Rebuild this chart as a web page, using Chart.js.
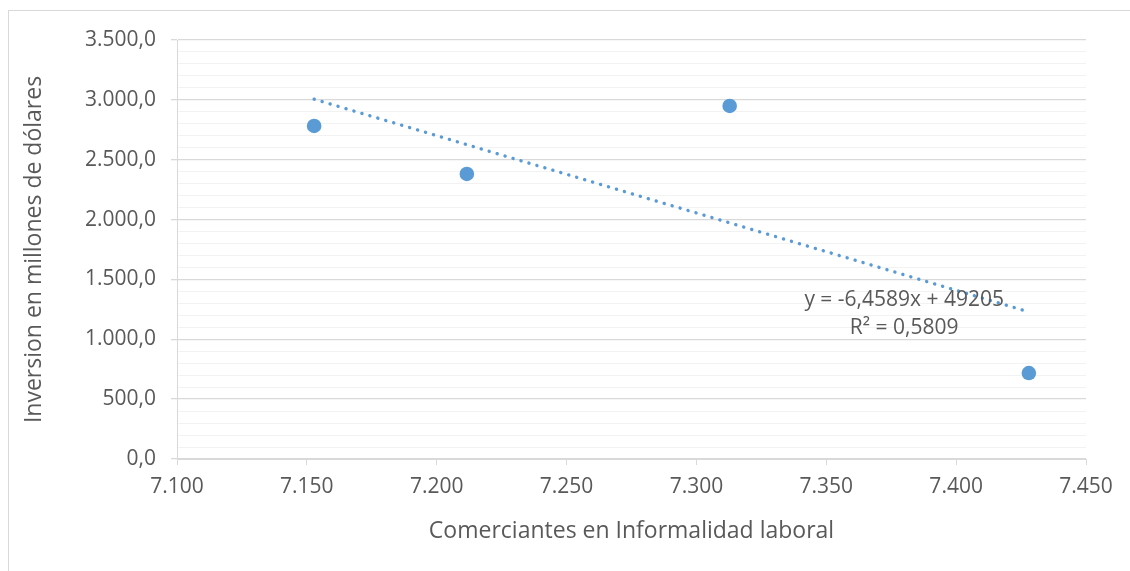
<!DOCTYPE html>
<html>
<head>
<meta charset="utf-8">
<script src="https://cdn.jsdelivr.net/npm/chart.js@4/dist/chart.umd.min.js"></script>
<style>
    html, body { margin: 0; padding: 0; background: #fff; }
    #wrap { position: absolute; left: 0; top: 0; width: 1130px; height: 571px; }
</style>
</head>
<body>
<div id="wrap"><canvas id="myScatterChart"></canvas></div>
<script>
// datos
const comerciantes = [7152.8, 7211.6, 7312.8, 7428];
const inversion = [2782, 2381, 2949, 718];
const xTicks = [7100, 7150, 7200, 7250, 7300, 7350, 7400, 7450];
const yTicks = [0, 500, 1000, 1500, 2000, 2500, 3000, 3500];
// linea de tendencia (valores que muestra la etiqueta)
const trendSlope = -6.4589;
const trendIntercept = 49205;
const trendLabel = ['y = -6,4589x + 49205', 'R\u00b2 = 0,5809'];

const textColor = '#595959';
const fontName = "'Open Sans', sans-serif";

function fmtX(v) {
    return Math.round(v).toString().replace(/\B(?=(\d{3})+(?!\d))/g, '.');
}
function fmtY(v) {
    return fmtX(v) + ',0';
}

const puntos = comerciantes.map((x, i) => ({ x: x, y: inversion[i] }));
const xMin = Math.min(...comerciantes);
const xMax = Math.max(...comerciantes);
const tendencia = [xMin, xMax].map(x => ({ x: x, y: trendSlope * x + trendIntercept }));

//marco y etiqueta de la tendencia
const decorPlugin = {
    id: 'decor',
    beforeDraw(chart) {
        const ctx = chart.ctx;
        ctx.save();
        ctx.fillStyle = '#fff';
        ctx.fillRect(0, 0, chart.width, chart.height);
        ctx.strokeStyle = '#d9d9d9';
        ctx.lineWidth = 1;
        ctx.strokeRect(8.5, 10.5, chart.width + 10, chart.height + 10);
        ctx.restore();
    },
    afterDatasetsDraw(chart) {
        const ctx = chart.ctx;
        const sx = chart.scales.x, sy = chart.scales.y;
        const cx = sx.getPixelForValue(7380);
        const cy = sy.getPixelForValue(1210);
        ctx.save();
        ctx.fillStyle = textColor;
        ctx.font = '21px ' + fontName;
        ctx.textAlign = 'center';
        ctx.textBaseline = 'middle';
        ctx.fillText(trendLabel[0], cx, cy - 14);
        ctx.fillText(trendLabel[1], cx, cy + 14);
        ctx.restore();
    }
};

new Chart(document.getElementById('myScatterChart'), {
    type: 'scatter',
    data: {
        datasets: [
            {
                type: 'line',
                label: 'Tendencia',
                data: tendencia,
                borderColor: '#5b9bd5',
                borderWidth: 3.4,
                borderDash: [0.1, 8.2],
                borderCapStyle: 'round',
                pointRadius: 0,
                fill: false,
            },
            {
                label: 'Inversion',
                data: puntos,
                backgroundColor: '#5b9bd5',
                borderColor: '#5b9bd5',
                borderWidth: 0,
                pointRadius: 7.3,
            }
        ],
    },
    options: {
        responsive: true,
        maintainAspectRatio: false,
        animation: false,
        layout: { padding: { left: 17, top: 40, right: 44, bottom: 0 } },
        plugins: {
            legend: { display: false },
            tooltip: { enabled: false },
        },
        scales: {
            x: {
                type: 'linear',
                min: xTicks[0],
                max: xTicks[xTicks.length - 1],
                afterBuildTicks: axis => { axis.ticks = xTicks.map(v => ({ value: v })); },
                afterFit: axis => { axis.height = 112; },
                border: { color: '#d9d9d9', width: 1 },
                grid: {
                    drawOnChartArea: false,
                    drawTicks: true,
                    tickLength: 6,
                    tickColor: '#d9d9d9',
                },
                ticks: {
                    color: textColor,
                    font: { family: fontName, size: 21 },
                    padding: 9,
                    maxRotation: 0,
                    callback: v => fmtX(v),
                },
                title: {
                    display: true,
                    text: 'Comerciantes en Informalidad laboral',
                    color: textColor,
                    font: { family: fontName, size: 23 },
                    padding: { top: 10, bottom: 26 },
                },
            },
            y: {
                type: 'linear',
                min: 0,
                max: 3500,
                afterBuildTicks: axis => {
                    const t = [];
                    for (let v = 0; v <= 3500; v += 100) t.push({ value: v });
                    axis.ticks = t;
                },
                afterFit: axis => { axis.width = 160; },
                border: { color: '#d9d9d9', width: 1 },
                grid: {
                    color: c => (c.tick && c.tick.value % 500 === 0) ? '#d9d9d9' : '#f2f2f2',
                    lineWidth: c => (c.tick && c.tick.value % 500 === 0) ? 1.3 : 1,
                    tickLength: 6,
                    tickColor: c => (c.tick && c.tick.value % 500 === 0) ? '#d9d9d9' : 'rgba(0,0,0,0)',
                },
                ticks: {
                    color: textColor,
                    font: { family: fontName, size: 21 },
                    padding: 15,
                    autoSkip: false,
                    callback: v => (yTicks.includes(v) ? fmtY(v) : ''),
                },
                title: {
                    display: true,
                    text: 'Inversion en millones de d\u00f3lares',
                    color: textColor,
                    font: { family: fontName, size: 23 },
                    padding: { top: 4, bottom: 4 },
                },
            },
        },
    },
    plugins: [decorPlugin],
});
</script>
</body>
</html>
